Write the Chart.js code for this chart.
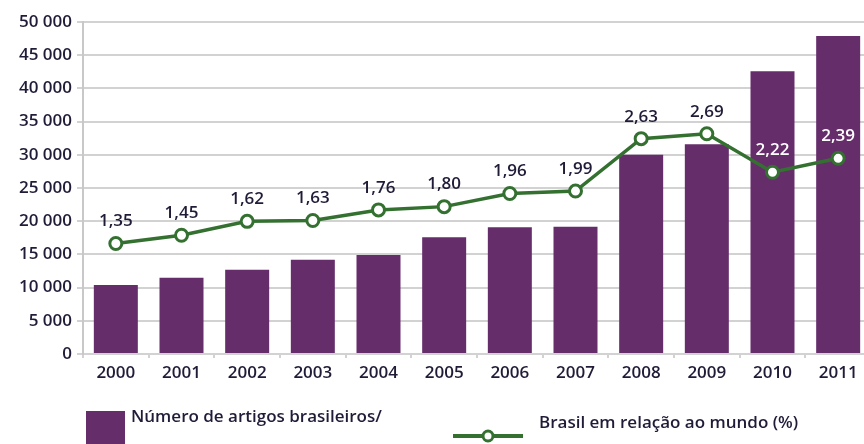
<!DOCTYPE html>
<html>
<head>
    <meta charset="utf-8">
    <title>Artigos brasileiros</title>
    <style>
        body {
            margin: 0;
            padding: 0;
            background: #fff;
            overflow: hidden;
            width: 864px;
            height: 444px;
        }
        #chart {
            display: block;
        }
    </style>
    <script src="https://cdn.jsdelivr.net/npm/chart.js"></script>
</head>
<body>
    <canvas id="chart" width="880" height="444"></canvas>

    <script>
        const anos = ['2000', '2001', '2002', '2003', '2004', '2005', '2006', '2007', '2008', '2009', '2010', '2011'];
        const artigos = [10400, 11500, 12700, 14200, 14900, 17600, 19100, 19150, 30000, 31600, 42600, 47900];
        const percentual = [1.35, 1.45, 1.62, 1.63, 1.76, 1.80, 1.96, 1.99, 2.63, 2.69, 2.22, 2.39];
        const yTicks = [0, 5000, 10000, 15000, 20000, 25000, 30000, 35000, 40000, 45000, 50000];

        const roxo = '#662d6b';
        const verde = '#347030';
        const texto = '#201c38';
        const fonte = '"Open Sans", sans-serif';

        function milhar(v) {
            return String(v).replace(/\B(?=(\d{3})+(?!\d))/g, ' ');
        }

        // rotulos em cima dos pontos da linha
        const rotulos = {
            id: 'rotulos',
            afterDatasetsDraw(chart) {
                const ctx = chart.ctx;
                const meta = chart.getDatasetMeta(1);
                ctx.save();
                ctx.font = '600 17px ' + fonte;
                ctx.textAlign = 'center';
                ctx.textBaseline = 'middle';
                meta.data.forEach((pt, i) => {
                    ctx.fillStyle = i >= 10 ? '#ffffff' : texto;
                    ctx.fillText(percentual[i].toFixed(2).replace('.', ','), pt.x, pt.y - 22);
                });
                ctx.restore();
            }
        };

        // legenda desenhada a mao, como no original
        const legenda = {
            id: 'legenda',
            afterDraw(chart) {
                const ctx = chart.ctx;
                ctx.save();
                ctx.fillStyle = roxo;
                ctx.fillRect(86, 411, 39, 36);
                ctx.font = '600 17px ' + fonte;
                ctx.fillStyle = texto;
                ctx.textBaseline = 'middle';
                ctx.fillText('Número de artigos brasileiros/', 131, 417);

                ctx.strokeStyle = verde;
                ctx.lineWidth = 4;
                ctx.beginPath();
                ctx.moveTo(453, 436);
                ctx.lineTo(523, 436);
                ctx.stroke();
                ctx.beginPath();
                ctx.arc(488, 436, 5, 0, Math.PI * 2);
                ctx.fillStyle = '#fff';
                ctx.fill();
                ctx.lineWidth = 3;
                ctx.stroke();

                ctx.fillStyle = texto;
                ctx.fillText('Brasil em relação ao mundo (%)', 539, 423);
                ctx.restore();
            }
        };

        new Chart(document.getElementById('chart'), {
            data: {
                labels: anos,
                datasets: [{
                    type: 'bar',
                    label: 'Número de artigos brasileiros/',
                    data: artigos,
                    backgroundColor: roxo,
                    barPercentage: 0.67,
                    categoryPercentage: 1,
                    yAxisID: 'y',
                    order: 1
                }, {
                    type: 'line',
                    label: 'Brasil em relação ao mundo (%)',
                    data: percentual,
                    borderColor: verde,
                    borderWidth: 3.5,
                    pointRadius: 6,
                    pointBorderWidth: 3,
                    pointBackgroundColor: '#fff',
                    pointBorderColor: verde,
                    tension: 0,
                    yAxisID: 'y1',
                    order: 0
                }]
            },
            options: {
                responsive: false,
                animation: false,
                layout: { padding: { top: 22, left: 0, right: 0, bottom: 0 } },
                plugins: {
                    legend: { display: false },
                    tooltip: { enabled: false }
                },
                scales: {
                    x: {
                        grid: {
                            display: true,
                            drawOnChartArea: false,
                            color: '#d2d2d2',
                            lineWidth: 2,
                            tickLength: 4
                        },
                        border: { display: false },
                        ticks: {
                            color: texto,
                            font: { family: fonte, size: 17, weight: 600 },
                            padding: 5,
                            maxRotation: 0
                        },
                        afterFit(scale) { scale.height = 90; }
                    },
                    y: {
                        min: 0,
                        max: 50000,
                        afterBuildTicks(scale) {
                            scale.ticks = yTicks.map(v => ({ value: v }));
                        },
                        ticks: {
                            color: texto,
                            font: { family: fonte, size: 17, weight: 600 },
                            padding: 5,
                            callback: v => milhar(v)
                        },
                        grid: {
                            color: '#d2d2d2',
                            lineWidth: 2,
                            tickLength: 6
                        },
                        border: { color: '#c8c8c8', width: 2 },
                        afterFit(scale) { scale.width = 83; }
                    },
                    y1: {
                        display: false,
                        min: 0,
                        max: 4.055
                    }
                }
            },
            plugins: [rotulos, legenda]
        });
    </script>
</body>
</html>
